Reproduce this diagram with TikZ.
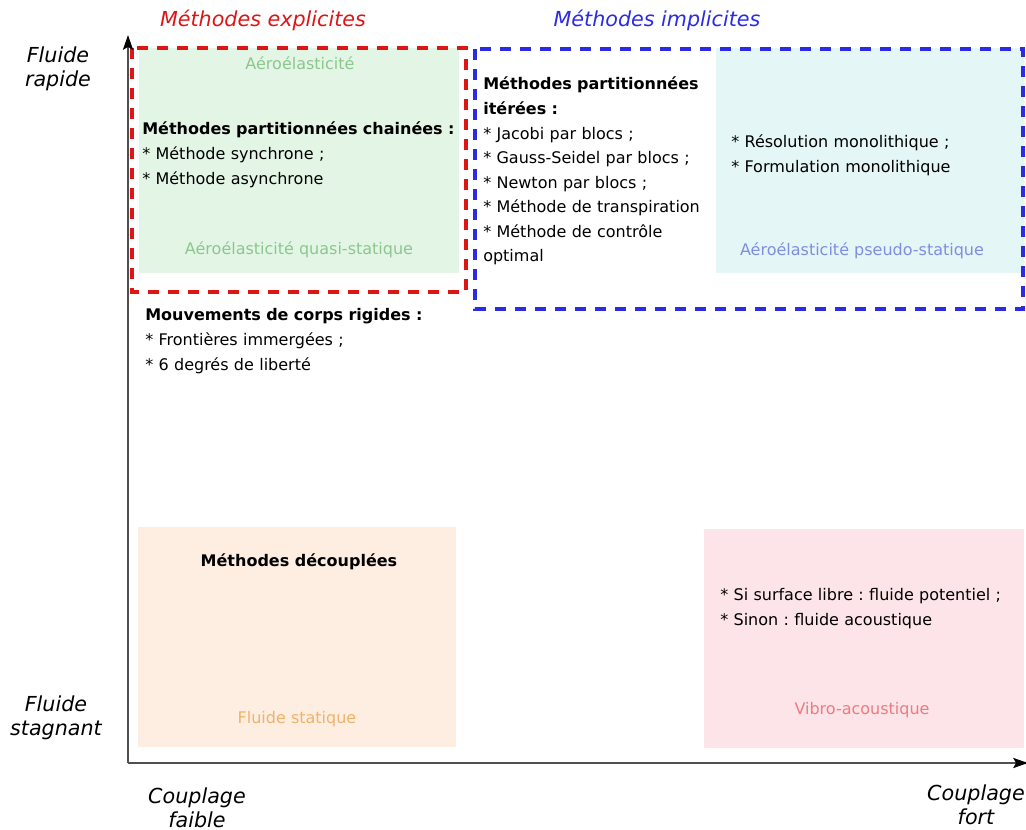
\documentclass[tikz,border=0pt]{standalone}
\usepackage{fontspec}
\setmainfont{DejaVu Sans}
\usepackage{tikz}
\usetikzlibrary{arrows.meta,positioning}
\frenchspacing

\definecolor{explred}{HTML}{DD1515}
\definecolor{impblue}{HTML}{2B2BE6}
\definecolor{greenfill}{HTML}{E3F6E6}
\definecolor{greentxt}{HTML}{8CC68E}
\definecolor{cyanfill}{HTML}{E4F6F6}
\definecolor{cyantxt}{HTML}{7F8FE0}
\definecolor{orangefill}{HTML}{FDEEE1}
\definecolor{orangetxt}{HTML}{F0B26C}
\definecolor{pinkfill}{HTML}{FDE4E8}
\definecolor{pinktxt}{HTML}{EC7C82}
\definecolor{axisgray}{HTML}{505050}

\begin{document}
\begin{tikzpicture}[x=0.75pt, y=-0.75pt,
    txt/.style={font=\fontsize{12}{18.4}\selectfont, inner sep=0pt},
    item/.style={txt, anchor=base west, text width=250pt, align=left},
    zone/.style={txt, anchor=base},
    title/.style={font=\fontsize{15.5}{18}\selectfont\itshape, inner sep=0pt, anchor=base},
    axislabel/.style={title, text width=90pt, align=center},
    axisline/.style={axisgray, line width=1.5pt, -{Stealth[length=11pt, width=7.5pt, inset=2pt, black]}},
    region/.style={line width=2.4pt, dash pattern=on 8.25pt off 6.75pt}]
    \useasboundingbox (0,0) rectangle (1026,830);

    % fonds colores
    \fill[greenfill] (139,48) rectangle (459,273);
    \fill[cyanfill] (716,48) rectangle (1024,273);
    \fill[orangefill] (138,527) rectangle (456,747);
    \fill[pinkfill] (704,529) rectangle (1024,748);

    % cadres explicite / implicite
    \draw[region, explred] (132,48) rectangle (466,292);
    \draw[region, impblue] (475,49) rectangle (1023,309);
    \node[title, text=explred] (expl) at (263,27) {Méthodes explicites};
    \node[title, text=impblue] (impl) at (657,27) {Méthodes implicites};

    % axes
    \coordinate (origin) at (128,763);
    \coordinate (ytip) at (128,35);
    \coordinate (xtip) at (1028,763);
    \draw[axisline] (origin) -- (ytip);
    \draw[axisline] (origin) -- (xtip);
    \node[axislabel] (rapide) at (58,63) {Fluide\\rapide};
    \node[axislabel] (stagnant) at (56,712) {Fluide\\stagnant};
    \node[axislabel] (faible) at (197,803) {Couplage\\faible};
    \node[axislabel] (fort) at (976,801) {Couplage\\fort};

    % aeroelasticite
    \node[zone, text=greentxt] (aero) at (300,70) {Aéroélasticité};
    \node[item] (chain) at (142,135) {\textbf{Méthodes partitionnées chainées :}\\
        {*} Méthode synchrone ;\\
        {*} Méthode asynchrone};
    \node[zone, text=greentxt] (quasi) at (299,255) {Aéroélasticité quasi-statique};
    \node[item] (rigid) at (145,321) {\textbf{Mouvements de corps rigides :}\\
        {*} Frontières immergées ;\\
        {*} 6 degrés de liberté};

    \node[item] (iter) at (483,90) {\textbf{Méthodes partitionnées}\\
        \textbf{itérées :}\\
        {*} Jacobi par blocs ;\\
        {*} Gauss-Seidel par blocs ;\\
        {*} Newton par blocs ;\\
        {*} Méthode de transpiration\\
        {*} Méthode de contrôle\\
        optimal};
    \node[item] (mono) at (731,148) {* Résolution monolithique ;\\
        {*} Formulation monolithique};
    \node[zone, text=cyantxt] (pseudo) at (862,256) {Aéroélasticité pseudo-statique};

    % fluide stagnant
    \node[zone, font=\fontsize{12}{18.4}\selectfont\bfseries] (decoup) at (299,567) {Méthodes découplées};
    \node[zone, text=orangetxt] (statique) at (297,724) {Fluide statique};
    \node[item] (acou) at (720,601) {* Si surface libre : fluide potentiel ;\\
        {*} Sinon : fluide acoustique};
    \node[zone, text=pinktxt] (vibro) at (862,715) {Vibro-acoustique};
\end{tikzpicture}
\end{document}
